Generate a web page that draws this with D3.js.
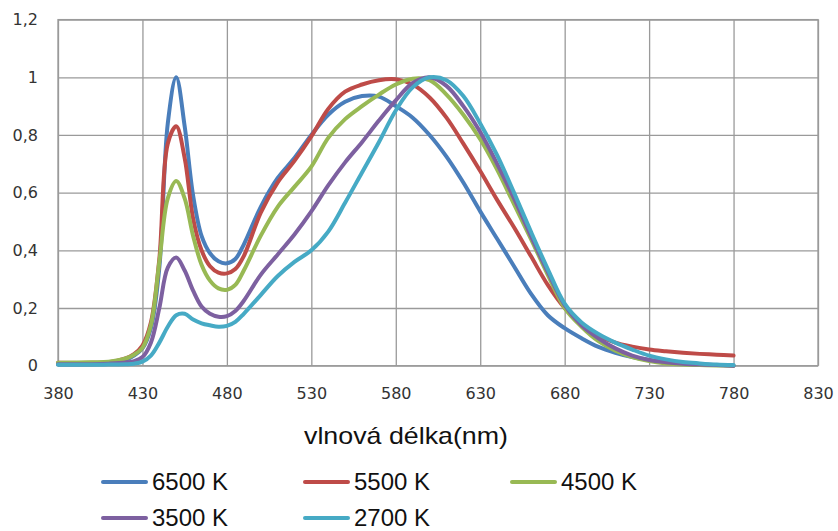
<!DOCTYPE html>
<html>
<head>
<meta charset="utf-8">
<script src="https://cdn.jsdelivr.net/npm/d3@7/dist/d3.min.js"></script>
<style>
  html, body { margin: 0; padding: 0; background: #fff; }
  svg { display: block; }
</style>
</head>
<body>
<svg id="chart" width="838" height="531"></svg>
<script>
// ---- data ----
const wavelengths = [380,400,410,420,425,430,435,440,445,450,455,460,465,470,475,480,485,490,500,510,520,530,540,550,560,570,580,590,600,610,620,630,640,650,660,670,680,690,700,710,720,730,740,750,760,770,780];

const k6500 = [.005,.006,.008,.02,.035,.06,.13,.34,.84,1.0,.83,.59,.45,.39,.362,.355,.37,.42,.55,.65,.72,.80,.87,.915,.935,.933,.90,.86,.80,.725,.635,.535,.44,.345,.25,.175,.13,.095,.065,.045,.03,.02,.013,.008,.004,.002,0];
const k5500 = [.01,.01,.012,.025,.04,.07,.15,.37,.77,.83,.72,.51,.40,.345,.323,.32,.335,.38,.53,.635,.71,.795,.89,.95,.975,.99,.993,.975,.93,.86,.77,.675,.575,.48,.38,.28,.2,.145,.105,.08,.066,.056,.05,.045,.041,.038,.035];
const k4500 = [.01,.012,.014,.025,.038,.062,.14,.36,.58,.64,.58,.45,.35,.295,.268,.263,.28,.33,.45,.55,.62,.69,.79,.855,.9,.94,.975,.995,.99,.94,.87,.785,.68,.56,.44,.315,.2,.135,.085,.052,.03,.016,.008,.004,.002,.001,0];
const k3500 = [.005,.005,.007,.011,.016,.03,.08,.2,.34,.375,.33,.26,.205,.18,.17,.172,.19,.225,.315,.385,.455,.535,.625,.705,.775,.85,.92,.98,1.0,.97,.9,.81,.7,.58,.45,.325,.21,.14,.095,.06,.035,.02,.012,.007,.004,.002,0];
const k2700 = [.003,.003,.004,.005,.007,.014,.035,.08,.135,.175,.18,.16,.147,.14,.135,.138,.152,.18,.245,.31,.36,.40,.465,.565,.67,.775,.885,.965,1.0,.99,.935,.84,.73,.6,.465,.335,.215,.15,.11,.08,.056,.035,.022,.013,.008,.004,.002];

const seriesNames = ["6500 K","5500 K","4500 K","3500 K","2700 K"];
const seriesColors = ["#4A7EBB","#BE4B48","#98B954","#7D60A0","#46AAC5"];
const seriesValues = [k6500,k5500,k4500,k3500,k2700];

const xTicks = [380,430,480,530,580,630,680,730,780,830];
const yTicks = [0,0.2,0.4,0.6,0.8,1.0,1.2];
const yTickLabels = ["0","0,2","0,4","0,6","0,8","1","1,2"];
const xTitle = "vlnová délka(nm)";

// ---- layout ----
const svg = d3.select("#chart");
const L = 58, R = 818, T = 19.6, B = 365.7;

const x = d3.scaleLinear().domain([380,830]).range([L,R]);
const y = d3.scaleLinear().domain([0,1.2]).range([B,T]);

const gridColor = "#9a9a9a";

// x axis with vertical gridlines
const gx = svg.append("g")
  .attr("transform", `translate(0,${B})`)
  .call(d3.axisBottom(x).tickValues(xTicks).tickSize(-(B - T)).tickPadding(22).tickFormat(d3.format("d")));
gx.select(".domain").remove();
gx.selectAll("line").attr("stroke", gridColor).attr("stroke-width", 1.3);
gx.selectAll("text").attr("font-family", "DejaVu Sans, Verdana, sans-serif").attr("font-size", 16).attr("fill", "#333");

// y axis with horizontal gridlines
const gy = svg.append("g")
  .attr("transform", `translate(${L},0)`)
  .call(d3.axisLeft(y).tickValues(yTicks).tickSize(-(R - L)).tickPadding(20)
        .tickFormat((d,i) => yTickLabels[i]));
gy.select(".domain").remove();
gy.selectAll("line").attr("stroke", gridColor).attr("stroke-width", 1.3);
gy.selectAll("text").attr("font-family", "DejaVu Sans, Verdana, sans-serif").attr("font-size", 16).attr("fill", "#333");

// plot border
svg.append("rect").attr("x", L).attr("y", T).attr("width", R - L).attr("height", B - T)
  .attr("fill", "none").attr("stroke", gridColor).attr("stroke-width", 1.3);

// lines
const line = d3.line().curve(d3.curveCatmullRom.alpha(0.5))
  .x((d) => x(d[0])).y((d) => y(d[1]));

seriesValues.forEach((vals, i) => {
  const pts = wavelengths.map((w, j) => [w, vals[j]]);
  svg.append("path").datum(pts)
    .attr("d", line)
    .attr("fill", "none")
    .attr("stroke", seriesColors[i])
    .attr("stroke-width", 4)
    .attr("stroke-linecap", "round")
    .attr("stroke-linejoin", "round");
});

// axis title
svg.append("text")
  .attr("x", 406).attr("y", 444)
  .attr("text-anchor", "middle")
  .attr("font-family", "Liberation Sans Narrow, Arial Narrow, Liberation Sans, sans-serif")
  .attr("font-size", 24)
  .attr("fill", "#111")
  .attr("textLength", 204).attr("lengthAdjust", "spacingAndGlyphs")
  .text(xTitle);

// legend
const legendPos = [[103,482],[305,482],[512,482],[103,518],[305,518]];
seriesNames.forEach((name, i) => {
  const [lx, ly] = legendPos[i];
  svg.append("line")
    .attr("x1", lx).attr("x2", lx + 43).attr("y1", ly).attr("y2", ly)
    .attr("stroke", seriesColors[i]).attr("stroke-width", 4).attr("stroke-linecap", "round");
  svg.append("text")
    .attr("x", lx + 49).attr("y", ly + 8)
    .attr("font-family", "Liberation Sans Narrow, Arial Narrow, Liberation Sans, sans-serif")
    .attr("font-size", 23)
    .attr("fill", "#111")
    .attr("textLength", 76).attr("lengthAdjust", "spacingAndGlyphs")
    .text(name);
});
</script>
</body>
</html>
